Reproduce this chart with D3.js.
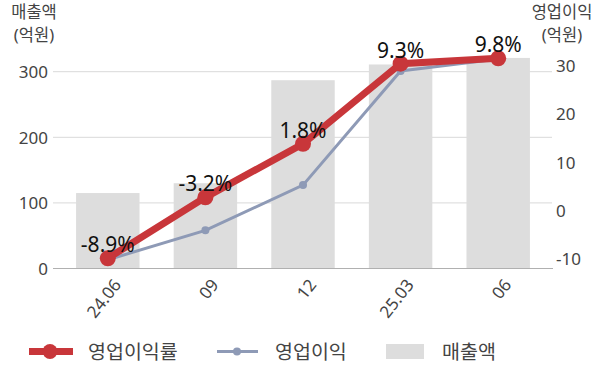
<!DOCTYPE html>
<html><head><meta charset="utf-8">
<script src="https://cdn.jsdelivr.net/npm/d3@7"></script>
<style>body{margin:0;background:#fff}svg{display:block}text{font-family:"Noto Sans","Noto Sans CJK KR",sans-serif}</style>
</head><body><svg id="c" width="600" height="383"></svg>
<script>
const categories = ["24.06","09","12","25.03","06"];
const revenue = [115, 130, 287, 311, 321];
const profit = [-10.3, -4.2, 5.2, 28.9, 31.4];
const margin = [-8.9, -3.2, 1.8, 9.3, 9.8];
const leftTicks = [0,100,200,300];
const rightTicks = [-10,0,10,20,30];

const svg = d3.select("#c");
const x = d3.scaleBand().domain(categories).range([59,547]).paddingInner(0.35).paddingOuter(0.175);
const yL = d3.scaleLinear().domain([0,300]).range([268.5,71.7]);
const yR = d3.scaleLinear().domain([-10,30]).range([258.3,65.7]);
const yM = d3.scaleLinear().domain([-8.9,9.8]).range([258.3,58.3]);
const cx = d => x(d)+x.bandwidth()/2;

// gridlines
svg.append("g").selectAll("line").data(leftTicks.slice(1)).join("line")
  .attr("x1",53).attr("x2",552).attr("y1",d=>yL(d)).attr("y2",d=>yL(d))
  .attr("stroke","#d9d9d9").attr("stroke-width",1);

// bars
svg.append("g").selectAll("rect").data(categories).join("rect")
  .attr("x",d=>x(d)).attr("width",x.bandwidth())
  .attr("y",(d,i)=>yL(revenue[i])).attr("height",(d,i)=>yL(0)-yL(revenue[i]))
  .attr("fill","#dddddd");

// bottom axis line
svg.append("line").attr("x1",53).attr("x2",553).attr("y1",yL(0)).attr("y2",yL(0))
  .attr("stroke","#b0b0b0").attr("stroke-width",1.2);

// left tick labels
svg.append("g").selectAll("text").data(leftTicks).join("text")
  .attr("x",48).attr("y",d=>yL(d)).attr("text-anchor","end").attr("dominant-baseline","central")
  .attr("font-size",17).attr("fill","#444").text(d=>d);
// right tick labels
svg.append("g").selectAll("text").data(rightTicks).join("text")
  .attr("x",556).attr("y",d=>yR(d)).attr("text-anchor","start").attr("dominant-baseline","central")
  .attr("font-size",17).attr("fill","#444").text(d=>d);

// axis titles
const titles = [
  {t:"매출액", x:34, y:18}, {t:"(억원)", x:34, y:41},
  {t:"영업이익", x:562, y:18}, {t:"(억원)", x:562, y:41}
];
svg.append("g").selectAll("text").data(titles).join("text")
  .attr("x",d=>d.x).attr("y",d=>d.y).attr("text-anchor","middle")
  .attr("font-size",16.5).attr("fill","#444").text(d=>d.t);

// x labels
svg.append("g").selectAll("text").data(categories).join("text")
  .attr("transform",d=>`translate(${cx(d)+9},${281}) rotate(-52)`)
  .attr("text-anchor","end").attr("dominant-baseline","central")
  .attr("font-size",17).attr("fill","#444").text(d=>d);

// blue line
const blue = "#8e9ab6", red = "#c8363a";
svg.append("path").datum(profit)
  .attr("d", d3.line().x((d,i)=>cx(categories[i])).y(d=>yR(d)))
  .attr("fill","none").attr("stroke",blue).attr("stroke-width",3);
svg.append("g").selectAll("circle").data(profit).join("circle")
  .attr("cx",(d,i)=>cx(categories[i])).attr("cy",d=>yR(d)).attr("r",4).attr("fill",blue);

// red line
svg.append("path").datum(margin)
  .attr("d", d3.line().x((d,i)=>cx(categories[i])).y(d=>yM(d)))
  .attr("fill","none").attr("stroke",red).attr("stroke-width",7);
svg.append("g").selectAll("circle").data(margin).join("circle")
  .attr("cx",(d,i)=>cx(categories[i])).attr("cy",d=>yM(d)).attr("r",8).attr("fill",red);

// labels
svg.append("g").selectAll("text").data(margin).join("text")
  .attr("x",(d,i)=>cx(categories[i])).attr("y",d=>yM(d)-6)
  .attr("text-anchor","middle").attr("font-size",21).attr("fill","#111")
  .text(d=>d.toFixed(1)+"%");

// legend
const lg = svg.append("g");
lg.append("line").attr("x1",29).attr("x2",73).attr("y1",351.5).attr("y2",351.5).attr("stroke",red).attr("stroke-width",7);
lg.append("circle").attr("cx",50).attr("cy",351.5).attr("r",7.5).attr("fill",red);
lg.append("text").attr("x",88).attr("y",351.5).attr("dominant-baseline","central").attr("font-size",19.5).attr("fill","#444").text("영업이익률");
lg.append("line").attr("x1",217).attr("x2",258).attr("y1",351.5).attr("y2",351.5).attr("stroke",blue).attr("stroke-width",3);
lg.append("circle").attr("cx",237).attr("cy",351.5).attr("r",4).attr("fill",blue);
lg.append("text").attr("x",275).attr("y",351.5).attr("dominant-baseline","central").attr("font-size",19.5).attr("fill","#444").text("영업이익");
lg.append("rect").attr("x",386).attr("y",344).attr("width",38).attr("height",15).attr("fill","#dddddd");
lg.append("text").attr("x",442).attr("y",351.5).attr("dominant-baseline","central").attr("font-size",19.5).attr("fill","#444").text("매출액");
</script></body></html>
